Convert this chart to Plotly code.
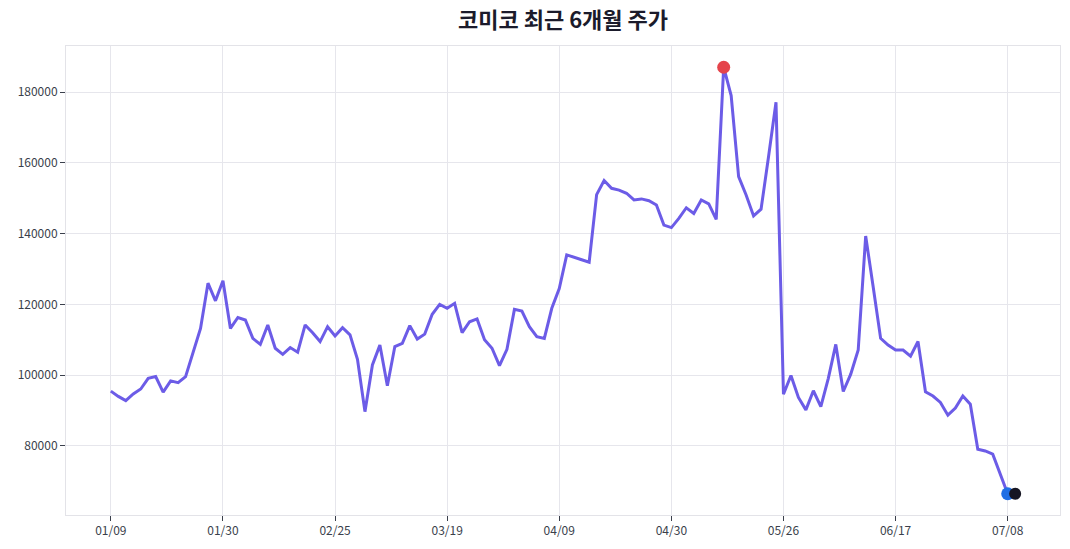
import plotly.graph_objects as go

# Tick labels for the category (trading-day) axis
tick_labels = ["01/09", "01/30", "02/25", "03/19", "04/09", "04/30", "05/26", "06/17", "07/08"]
tick_step = 15  # trading days between labelled ticks

# Closing prices (one per trading day, oldest first)
prices = [
    95500, 94000, 92800, 94700, 96100, 99100, 99600, 95200, 98400, 97900,
    99600, 106600, 113200, 126000, 121000, 126700, 113200, 116300, 115600, 110400,
    108700, 114200, 107600, 105900, 107800, 106500, 114200, 112000, 109500, 113700,
    111100, 113400, 111400, 104500, 89700, 102900, 108500, 97000, 108100, 109000,
    114000, 110200, 111600, 117200, 120000, 118900, 120300, 112000, 115100, 115900,
    110000, 107600, 102700, 107300, 118600, 118100, 113700, 110900, 110400, 118900,
    124500, 134000, 133200, 132600, 131900, 151000, 155000, 152800, 152300, 151400,
    149500, 149800, 149300, 148100, 142400, 141700, 144300, 147300, 145700, 149500,
    148400, 144000, 187000, 179000, 156100, 150900, 145000, 146900, 161700, 177100,
    94600, 99900, 93700, 90200, 95600, 91100, 99100, 108700, 95400, 100300,
    107100, 139300, 125000, 110400, 108500, 107100, 107100, 105400, 109500, 95300,
    94100, 92300, 88700, 90700, 94100, 91800, 79100, 78600, 77700, 72300,
    66500,
]
current_price = 66500  # latest quote marker

idx = list(range(len(prices)))
max_i = max(idx, key=lambda i: prices[i])
last_i = idx[-1]

fig = go.Figure()
fig.add_trace(go.Scatter(
    x=idx, y=prices, mode="lines",
    line=dict(color="#6c5ce7", width=3),
    hoverinfo="skip", showlegend=False,
))
fig.add_trace(go.Scatter(
    x=[max_i], y=[prices[max_i]], mode="markers",
    marker=dict(color="#e5444b", size=13), showlegend=False,
))
fig.add_trace(go.Scatter(
    x=[last_i], y=[prices[last_i]], mode="markers",
    marker=dict(color="#1f6fe5", size=13), showlegend=False,
))
fig.add_trace(go.Scatter(
    x=[last_i + 1], y=[current_price], mode="markers",
    marker=dict(color="#161623", size=12), showlegend=False,
))

font_family = "Noto Sans CJK KR, Noto Sans, sans-serif"
fig.update_layout(
    width=1070, height=549,
    margin=dict(l=66, r=10, t=46, b=34),
    paper_bgcolor="white", plot_bgcolor="white",
    font=dict(family=font_family, size=12, color="#3a3f4b"),
    title=dict(
        text="<b>코미코 최근 6개월 주가</b>",
        x=0.5, xref="paper", xanchor="center",
        y=1 - 20 / 549, yref="container", yanchor="middle",
        font=dict(size=22, color="#1b1b2b", family=font_family),
    ),
)
fig.update_xaxes(
    range=[-6, 127],
    tickmode="array",
    tickvals=[i * tick_step for i in range(len(tick_labels))],
    ticktext=tick_labels,
    showgrid=True, gridcolor="#e6e6ec", gridwidth=1,
    showline=True, linecolor="#e3e3e8", linewidth=1, mirror=True,
    ticks="outside", ticklen=5, tickcolor="#3a3f4b",
    zeroline=False,
)
fig.update_yaxes(
    range=[60500, 193000],
    tickmode="array",
    tickvals=[80000, 100000, 120000, 140000, 160000, 180000],
    ticktext=["80000", "100000", "120000", "140000", "160000", "180000"],
    showgrid=True, gridcolor="#e6e6ec", gridwidth=1,
    showline=True, linecolor="#e3e3e8", linewidth=1, mirror=True,
    ticks="outside", ticklen=5, tickcolor="#3a3f4b",
    zeroline=False,
)

fig.write_html("out.html")
